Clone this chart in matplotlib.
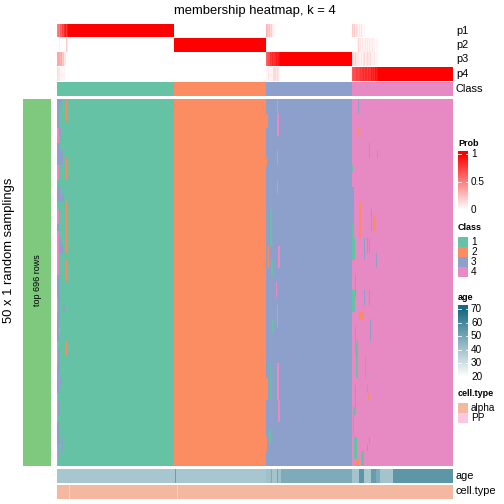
import matplotlib
matplotlib.use("Agg")
import matplotlib.pyplot as plt
import numpy as np
from matplotlib.colors import ListedColormap, LinearSegmentedColormap

plt.rcParams["font.family"] = ["Liberation Sans", "DejaVu Sans"]

# ---------------------------------------------------------------------------
# Données
# ---------------------------------------------------------------------------
n_par_classe = [117, 91, 86, 101]      # colonnes par classe (1..4)
n_tirages = 50
couleurs_classe = ["#66C2A5", "#FC8D62", "#8DA0CB", "#E78AC3"]

# probabilités non triviales (colonne -> p1, p2, p3, p4), sinon 1 pour la classe
prob_bord = {
    0: (0.5, 0.0, 0.35, 0.15), 1: (0.55, 0.0, 0.35, 0.1), 2: (0.5, 0.05, 0.35, 0.1),
    3: (0.65, 0.0, 0.3, 0.05), 4: (0.6, 0.0, 0.35, 0.05), 5: (0.75, 0.0, 0.2, 0.05),
    6: (0.7, 0.0, 0.25, 0.05), 7: (0.85, 0.0, 0.1, 0.05), 8: (0.9, 0.0, 0.1, 0.0),
    9: (0.8, 0.2, 0.0, 0.0), 10: (0.9, 0.1, 0.0, 0.0),
    208: (0.3, 0.05, 0.6, 0.05), 209: (0.25, 0.05, 0.65, 0.05), 210: (0.2, 0.0, 0.7, 0.1),
    211: (0.25, 0.0, 0.7, 0.05), 212: (0.15, 0.0, 0.8, 0.05), 213: (0.2, 0.0, 0.75, 0.05),
    214: (0.1, 0.0, 0.85, 0.05), 215: (0.05, 0.0, 0.8, 0.15), 216: (0.05, 0.0, 0.8, 0.15),
    217: (0.0, 0.0, 0.85, 0.15), 218: (0.0, 0.0, 0.9, 0.1), 219: (0.0, 0.0, 0.85, 0.15),
    220: (0.0, 0.0, 0.9, 0.1), 221: (0.0, 0.0, 0.95, 0.05),
    294: (0.2, 0.0, 0.15, 0.65), 295: (0.15, 0.0, 0.15, 0.7), 296: (0.2, 0.0, 0.1, 0.7),
    297: (0.1, 0.0, 0.2, 0.7), 298: (0.15, 0.0, 0.1, 0.75), 299: (0.1, 0.05, 0.1, 0.75),
    300: (0.05, 0.15, 0.1, 0.7), 301: (0.1, 0.1, 0.05, 0.75), 302: (0.05, 0.1, 0.05, 0.8),
    303: (0.1, 0.05, 0.1, 0.75), 304: (0.05, 0.1, 0.05, 0.8), 305: (0.0, 0.05, 0.1, 0.85),
    306: (0.05, 0.05, 0.15, 0.75), 307: (0.0, 0.1, 0.05, 0.85), 308: (0.0, 0.05, 0.1, 0.85),
    309: (0.0, 0.1, 0.15, 0.75), 310: (0.0, 0.05, 0.1, 0.85), 311: (0.0, 0.1, 0.1, 0.8),
    312: (0.0, 0.05, 0.15, 0.8), 313: (0.0, 0.05, 0.05, 0.9), 314: (0.0, 0.1, 0.05, 0.85),
    315: (0.0, 0.05, 0.05, 0.9), 316: (0.0, 0.05, 0.1, 0.85), 317: (0.0, 0.0, 0.05, 0.95),
    318: (0.0, 0.05, 0.05, 0.9), 319: (0.0, 0.0, 0.05, 0.95),
}

# écarts dans la matrice des tirages : (col début, col fin, ligne début, ligne fin, classe)
ecarts = [
    # bord gauche classe 1
    (0, 3, 0, 2, 3), (3, 5, 0, 1, 3), (9, 10, 0, 3, 2), (0, 2, 2, 4, 3), (0, 2, 4, 6, 4),
    (2, 4, 4, 5, 3), (0, 3, 6, 9, 3), (3, 6, 7, 9, 3), (9, 10, 8, 11, 2), (0, 2, 9, 11, 4),
    (2, 3, 10, 12, 3), (0, 4, 12, 14, 3), (5, 7, 13, 14, 3), (0, 2, 15, 17, 4), (2, 3, 15, 16, 3),
    (9, 10, 14, 21, 2), (0, 2, 17, 18, 3), (0, 2, 18, 24, 4), (2, 4, 19, 21, 3), (4, 6, 20, 21, 3),
    (0, 3, 24, 27, 3), (9, 10, 22, 25, 2), (0, 1, 27, 29, 4), (1, 3, 27, 30, 3), (6, 8, 28, 29, 3),
    (0, 2, 30, 33, 3), (2, 3, 31, 32, 4), (0, 1, 33, 36, 4), (1, 3, 34, 37, 3), (9, 10, 33, 35, 2),
    (0, 2, 37, 40, 3), (3, 5, 38, 39, 3), (0, 1, 40, 44, 4), (1, 3, 41, 43, 3), (0, 3, 44, 47, 3),
    (0, 1, 47, 50, 4), (1, 2, 47, 49, 3), (5, 6, 46, 48, 3),
    # classe 3
    (208, 210, 2, 4, 2), (208, 209, 8, 9, 2), (208, 210, 38, 41, 2), (208, 209, 46, 48, 2),
    (210, 211, 20, 23, 2), (212, 214, 15, 20, 1), (213, 215, 22, 24, 1), (212, 213, 36, 41, 1),
    (211, 213, 45, 47, 1), (214, 216, 30, 32, 1), (219, 220, 0, 3, 4), (219, 221, 2, 5, 4),
    (219, 220, 7, 9, 4), (219, 220, 11, 13, 4), (220, 222, 20, 23, 4), (219, 220, 28, 31, 4),
    (219, 221, 36, 41, 4), (220, 222, 41, 44, 4), (218, 219, 25, 27, 4),
    # classe 4
    (300, 301, 0, 2, 3), (300, 301, 4, 5, 2), (311, 312, 6, 8, 3), (319, 320, 7, 8, 3),
    (294, 295, 9, 10, 1), (294, 296, 12, 17, 3), (294, 296, 17, 19, 1), (301, 303, 14, 19, 2),
    (315, 318, 16, 18, 2), (313, 314, 15, 18, 3), (294, 297, 19, 22, 1), (306, 307, 19, 22, 3),
    (309, 310, 19, 21, 3), (311, 312, 19, 21, 3), (318, 319, 21, 23, 3), (294, 297, 26, 29, 1),
    (306, 307, 26, 28, 3), (311, 312, 26, 28, 3), (301, 306, 29, 30, 2), (312, 313, 30, 33, 3),
    (297, 300, 33, 35, 1), (298, 300, 35, 38, 1), (307, 308, 35, 38, 1), (309, 310, 39, 40, 1),
    (310, 311, 40, 41, 2), (295, 298, 42, 43, 1), (295, 296, 43, 46, 1), (296, 299, 46, 49, 1),
    (311, 312, 46, 47, 3), (309, 310, 47, 48, 3), (303, 306, 48, 50, 1), (298, 301, 49, 50, 2),
    (297, 298, 24, 27, 3), (297, 298, 31, 33, 3), (297, 298, 39, 42, 3),
]

# âge par paquets de colonnes : (nombre, âge)
age_paquets = [(118, 39), (1, 52), (89, 39), (5, 41), (1, 48), (5, 40), (1, 50), (3, 41),
               (71, 48), (7, 40), (5, 55), (7, 39), (5, 53), (4, 48), (13, 40), (60, 55)]
cols_pp = [12, 120]   # colonnes de type PP, les autres alpha

# ---------------------------------------------------------------------------
# Construction des matrices
# ---------------------------------------------------------------------------
classe_col = np.repeat([1, 2, 3, 4], n_par_classe)
n_col = len(classe_col)

prob = np.zeros((4, n_col))
prob[classe_col - 1, np.arange(n_col)] = 1.0
for c, p in prob_bord.items():
    prob[:, c] = p

tirages = np.tile(classe_col, (n_tirages, 1))
for c0, c1, r0, r1, k in ecarts:
    tirages[r0:r1, c0:c1] = k

age = np.concatenate([np.full(n, a, dtype=float) for n, a in age_paquets])
type_cel = np.zeros(n_col)
type_cel[cols_pp] = 1

# ---------------------------------------------------------------------------
# Figure
# ---------------------------------------------------------------------------
W = H = 504
fig = plt.figure(figsize=(W / 72, H / 72), dpi=72)
fig.patch.set_facecolor("white")


def boite(x0, y0, x1, y1):
    ax = fig.add_axes([x0 / W, 1 - y1 / H, (x1 - x0) / W, (y1 - y0) / H])
    ax.set_axis_off()
    return ax


cmap_classe = ListedColormap(couleurs_classe)
cmap_prob = LinearSegmentedColormap.from_list("prob", ["white", "#FF0000"])
cmap_age = LinearSegmentedColormap.from_list("age", ["white", "#196A83"])
cmap_type = ListedColormap(["#F4B8A0", "#FBC7E3"])

X0, X1 = 57, 452.5
kw = dict(aspect="auto", interpolation="nearest")

lignes_p = [(24, 37.5), (37.5, 52), (52, 66.5), (66.5, 81)]
for i, (y0, y1) in enumerate(lignes_p):
    ax = boite(X0, y0, X1, y1)
    ax.imshow(prob[i:i + 1], cmap=cmap_prob, vmin=0, vmax=1, **kw)
    fig.text(456 / W, 1 - (y0 + y1) / 2 / H, f"p{i + 1}", fontsize=11, va="center")

ax = boite(X0, 82, X1, 96)
ax.imshow(classe_col[None, :], cmap=cmap_classe, vmin=0.5, vmax=4.5, **kw)
fig.text(456 / W, 1 - 89 / H, "Class", fontsize=11, va="center")

ax = boite(X0, 98.5, X1, 465.5)
ax.imshow(tirages, cmap=cmap_classe, vmin=0.5, vmax=4.5, **kw)

ax = boite(X0, 469, X1, 483)
ax.imshow(age[None, :], cmap=cmap_age, vmin=20, vmax=70, **kw)
fig.text(456 / W, 1 - 476 / H, "age", fontsize=11, va="center")

ax = boite(X0, 484.5, X1, 498.5)
ax.imshow(type_cel[None, :], cmap=cmap_type, vmin=-0.5, vmax=1.5, **kw)
fig.text(456 / W, 1 - 491.5 / H, "cell.type", fontsize=11, va="center")

# bande gauche
ax = boite(23, 98.5, 51, 465.5)
ax.add_patch(plt.Rectangle((0, 0), 1, 1, color="#7FC97F", transform=ax.transAxes))
fig.text(37 / W, 1 - 280 / H, "top 696 rows", fontsize=9, rotation=90,
         ha="center", va="center")
fig.text(9 / W, 1 - 250 / H, "50 x 1 random samplings", fontsize=13, rotation=90,
         ha="center", va="center")

fig.text(255 / W, 1 - 11 / H, "membership heatmap, k = 4", fontsize=13,
         ha="center", va="center")

# ---------------------------------------------------------------------------
# Légendes
# ---------------------------------------------------------------------------
LX = 458


def barre(y0, y1, vmin, vmax, cmap, ticks, y_vmin, y_vmax):
    # y_vmin / y_vmax : position pixel des bornes de la plage
    ax = boite(LX, y0, LX + 10, y1)
    pente = (vmax - vmin) / (y_vmin - y_vmax)
    v_haut = vmax + (y_vmax - y0) * pente
    v_bas = vmin - (y1 - y_vmin) * pente
    grad = np.linspace(v_haut, v_bas, 100)[:, None]
    ax.imshow(grad, cmap=cmap, vmin=vmin, vmax=vmax, aspect="auto",
              extent=(0, 1, y1, y0))
    ax.set_xlim(0, 1)
    ax.set_ylim(y1, y0)
    for t in ticks:
        yt = y_vmin - (t - vmin) / pente
        ax.plot([0, 0.25], [yt, yt], color="white", lw=0.8)
        ax.plot([0.75, 1], [yt, yt], color="white", lw=0.8)
        fig.text((LX + 13) / W, 1 - yt / H, f"{t:g}", fontsize=10, va="center")


fig.text(LX / W, 1 - 143 / H, "Prob", fontsize=9, fontweight="bold", va="center")
barre(151, 213, 0, 1, cmap_prob, [0, 0.5, 1], 210, 154)

fig.text(LX / W, 1 - 227 / H, "Class", fontsize=9, fontweight="bold", va="center")
for i, c in enumerate(couleurs_classe):
    y0 = 237 + 10 * i
    ax = boite(LX, y0, LX + 10, y0 + 10)
    ax.add_patch(plt.Rectangle((0, 0), 1, 1, color=c, transform=ax.transAxes))
    fig.text((LX + 13) / W, 1 - (y0 + 5) / H, str(i + 1), fontsize=10, va="center")

fig.text(LX / W, 1 - 298 / H, "age", fontsize=9, fontweight="bold", va="center")
barre(305, 381, 20, 70, cmap_age, [20, 30, 40, 50, 60, 70], 377, 309)

fig.text(LX / W, 1 - 393 / H, "cell.type", fontsize=9, fontweight="bold", va="center")
for i, (lab, c) in enumerate(zip(["alpha", "PP"], ["#F4B8A0", "#FBC7E3"])):
    y0 = 403 + 10 * i
    ax = boite(LX, y0, LX + 10, y0 + 10)
    ax.add_patch(plt.Rectangle((0, 0), 1, 1, color=c, transform=ax.transAxes))
    fig.text((LX + 13) / W, 1 - (y0 + 5) / H, lab, fontsize=10, va="center")

fig.savefig("out.png", dpi=72, facecolor="white")
